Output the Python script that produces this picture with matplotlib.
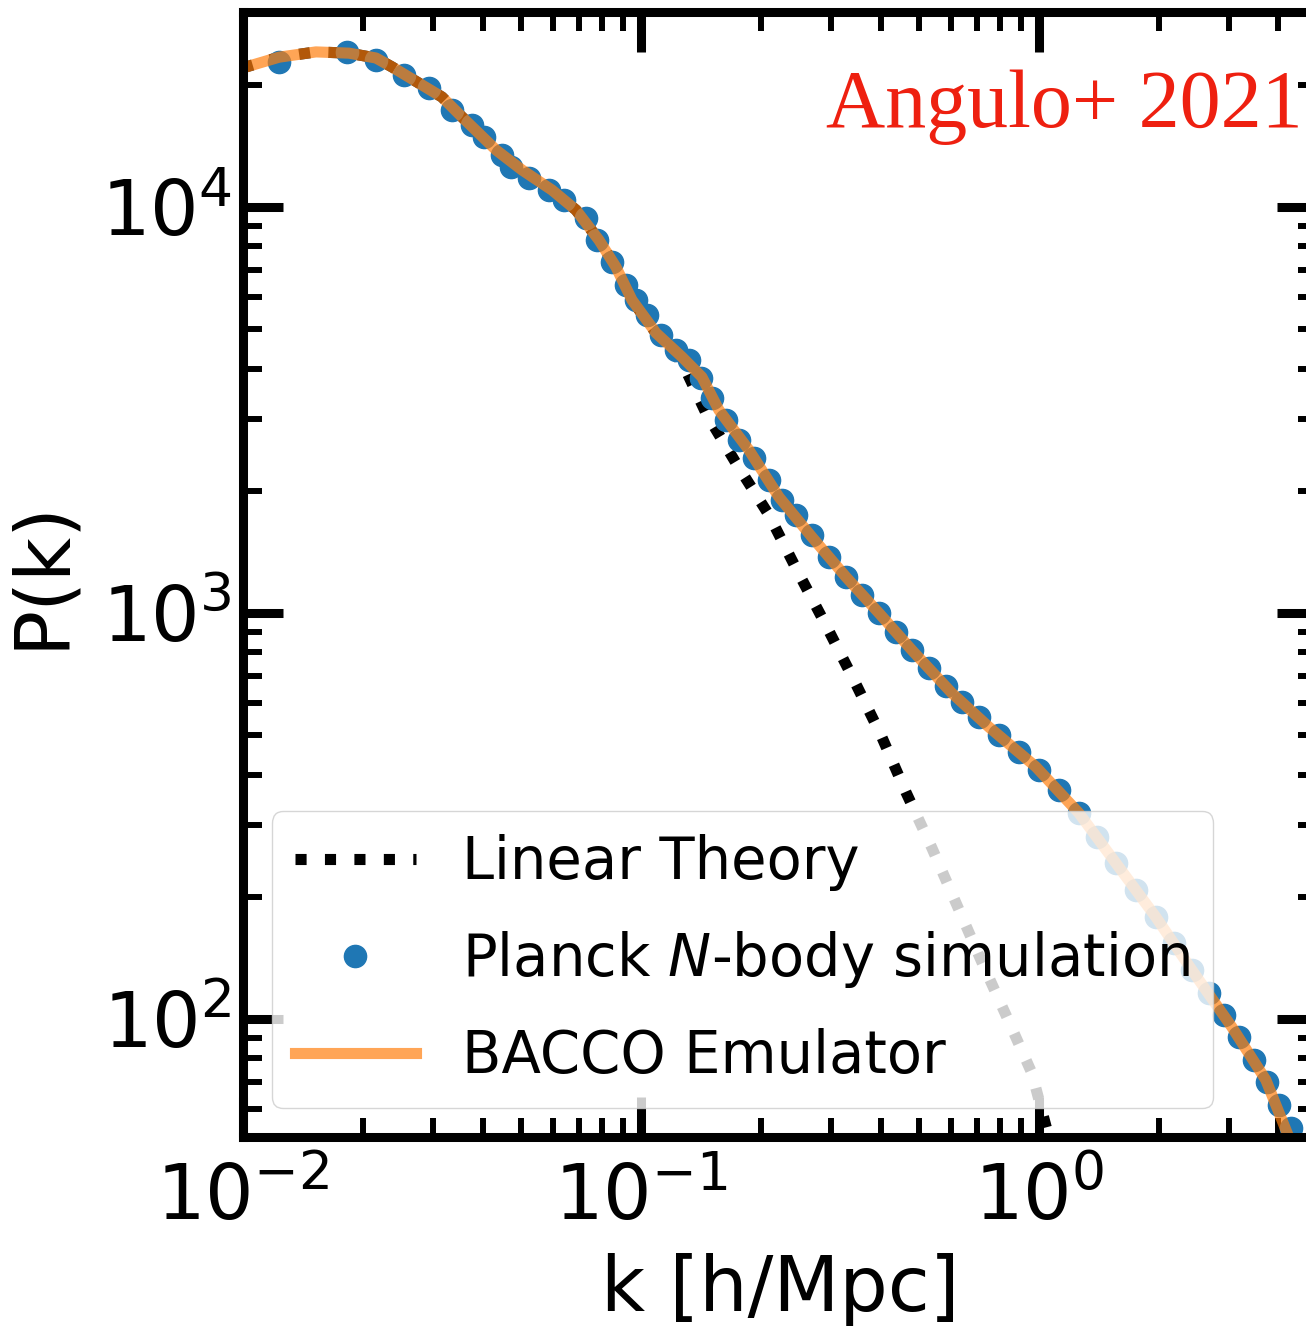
import matplotlib
matplotlib.use("Agg")
import matplotlib.pyplot as plt

# BACCO emulator curve, k [h/Mpc] and P(k)
k_emu = [0.00994, 0.01232, 0.01525, 0.01846, 0.02158, 0.02368, 0.03162, 0.03551,
         0.04323, 0.05023, 0.05976, 0.06868, 0.07842, 0.08654, 0.09493, 0.1091,
         0.1268, 0.1423, 0.157, 0.1868, 0.2222, 0.2689, 0.3275, 0.3963, 0.4798,
         0.6045, 0.7487, 0.9829, 1.2603, 1.5614, 1.968, 2.4233, 3.054, 3.719,
         4.247, 4.7]
p_emu = [21980, 23390, 24100, 23930, 23280, 22130, 18660, 16660,
         13820, 12340, 11010, 9830, 8290, 7115, 5902, 4895,
         4272, 3813, 3162, 2520, 1931, 1539, 1227, 1000, 810,
         635, 524, 418, 321.7, 242.2, 178.3, 132.1, 95.6, 70.8,
         51.2, 44.0]

# linear theory
k_lin = [0.00994, 0.01232, 0.01525, 0.01846, 0.02158, 0.02368, 0.03162, 0.03551,
         0.04323, 0.05023, 0.05976, 0.06868, 0.07842, 0.08654, 0.09493, 0.1091,
         0.1268, 0.1457, 0.1733, 0.2098, 0.2466, 0.2916, 0.3429, 0.4009, 0.4632,
         0.5385, 0.6223, 0.7191, 0.8311, 0.9603, 1.0595, 1.11]
p_lin = [21980, 23390, 24100, 23930, 23280, 22130, 18660, 16660,
         13820, 12340, 11010, 9830, 8290, 7115, 5902, 4895,
         4150, 3108, 2342, 1743, 1276, 934, 684, 500.7, 362.3,
         263.8, 190.9, 138.1, 101.1, 73.6, 51.2, 44.0]

# N-body measurements
k_sim = [0.01232, 0.01825, 0.02159, 0.02538, 0.02934, 0.03351, 0.03762, 0.04031,
         0.04475, 0.04714, 0.05232, 0.05872, 0.06404, 0.07275, 0.0775, 0.08456,
         0.09169, 0.09714, 0.1035, 0.1123, 0.1224, 0.132, 0.1415, 0.1508,
         0.1635, 0.1763, 0.1922, 0.2098, 0.2261, 0.2451, 0.2689, 0.2968,
         0.3275, 0.3591, 0.3963, 0.4373, 0.4798, 0.5292, 0.5838, 0.6404,
         0.7066, 0.7935, 0.8906, 1.0, 1.1228, 1.2603, 1.3986, 1.5614,
         1.7526, 1.9679, 2.1838, 2.4233, 2.6738, 2.9157, 3.1805, 3.4697,
         3.741, 4.009, 4.298, 4.58]
p_sim = [22760, 24090, 23020, 21140, 19640, 17330, 15920, 14870,
         13430, 12540, 11790, 11010, 10400, 9395, 8292, 7320,
         6424, 5902, 5420, 4839, 4444, 4198, 3792, 3386,
         2988, 2668, 2409, 2127, 1898, 1743, 1556, 1374,
         1227, 1107, 1000, 897.8, 810.6, 731.8, 661.1, 603.6,
         554.3, 500.6, 454.7, 410.5, 366.4, 321.7, 280.7, 242.2,
         207.8, 178.3, 153.9, 132.1, 115.9, 102.3, 90.3, 79.2,
         69.9, 61.4, 53.9, 47.6]

fig = plt.figure(figsize=(13.06, 13.26), dpi=100)
ax = fig.add_axes([0.1861, 0.1425, 0.8223, 0.8488])

ax.plot(k_lin, p_lin, ls=":", color="black", lw=8, label="Linear Theory")
ax.plot(k_sim, p_sim, ls="none", marker="o", ms=16, color="#1f77b4",
        label="Planck $N$-body simulation")
ax.plot(k_emu, p_emu, ls="-", color="#ff7f0e", lw=8, alpha=0.7,
        label="BACCO Emulator")

ax.set_xscale("log")
ax.set_yscale("log")
ax.set_xlim(0.01, 5.0)
ax.set_ylim(51.2, 30300)

for s in ax.spines.values():
    s.set_linewidth(6.5)
ax.tick_params(which="both", direction="in", top=True, right=True)
ax.tick_params(which="major", length=29, width=6.5, labelsize=55)
ax.tick_params(axis="x", which="major", pad=18)
ax.tick_params(axis="y", which="major", pad=8)
ax.tick_params(which="minor", length=14, width=4.3)

ax.set_xlabel("k [h/Mpc]", fontsize=55, labelpad=12)
ax.set_ylabel("P(k)", fontsize=55, labelpad=16)

ax.legend(loc="lower left", fontsize=41.5, labelspacing=0.66,
          handlelength=2.1)

fig.text(826 / 1306, 1 - 127 / 1326, "Angulo+ 2021", color="#ee2010",
         fontsize=59, family="Liberation Serif", ha="left", va="baseline")

fig.savefig("out.png", dpi=100)
